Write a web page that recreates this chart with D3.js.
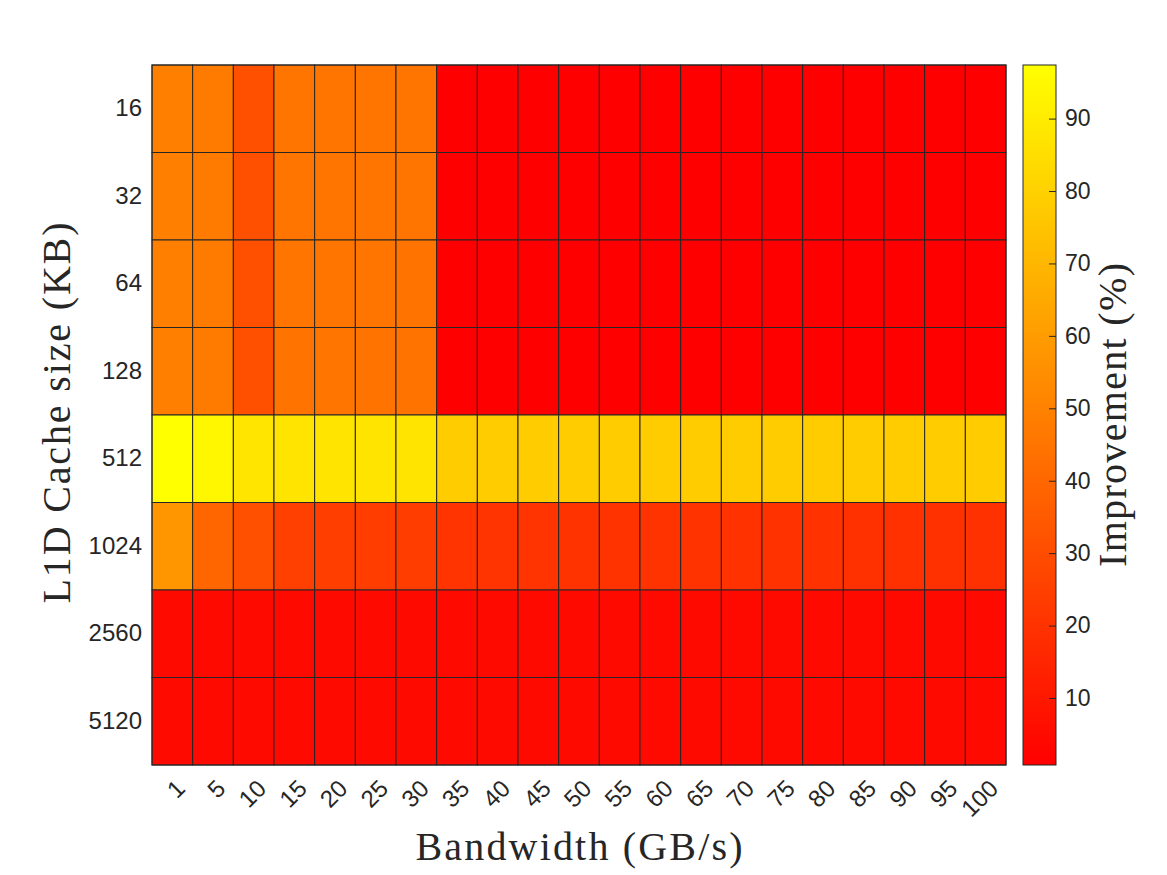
<!DOCTYPE html>
<html>
<head>
<meta charset="utf-8">
<script src="https://cdn.jsdelivr.net/npm/d3@7"></script>
<style>
  body { margin: 0; background: #fff; }
  svg { display: block; }
  .tick text { font-family: "Liberation Sans", Arial, sans-serif; fill: #262626; }
  .label { font-family: "Liberation Serif", "Times New Roman", serif; fill: #262626; }
</style>
</head>
<body>
<svg id="chart"></svg>
<script>
// bandwidth (GB/s), one column each
const bandwidths = [1, 5, 10, 15, 20, 25, 30, 35, 40, 45, 50, 55, 60, 65, 70, 75, 80, 85, 90, 95, 100];
// L1D cache sizes (KB), one row each
const cacheSizes = ["16", "32", "64", "128", "512", "1024", "2560", "5120"];

// improvement (%) per row
const row16   = [49.3, 47.4, 31.1, 45.1, 45.2, 45.0, 45.1, 0.9, 0.8, 0.75, 0.9, 0.9, 0.8, 0.9, 0.9, 0.8, 0.9, 0.9, 0.8, 0.9, 0.9];
const row32   = [49.2, 47.3, 31.2, 45.0, 45.1, 45.0, 45.0, 0.9, 0.9, 0.8, 0.9, 0.9, 0.9, 0.8, 0.9, 0.9, 0.8, 0.9, 0.9, 0.9, 0.9];
const row64   = [49.2, 47.2, 31.0, 45.0, 45.0, 45.0, 44.9, 0.9, 0.9, 0.8, 0.9, 0.8, 0.9, 0.9, 0.9, 0.9, 0.9, 0.8, 0.9, 0.9, 0.9];
const row128  = [49.1, 47.2, 30.9, 44.9, 45.0, 44.9, 44.9, 0.9, 0.9, 0.8, 0.9, 0.9, 0.9, 0.9, 0.8, 0.9, 0.9, 0.9, 0.9, 0.8, 0.9];
const row512  = [97.4, 94.4, 87.5, 87.2, 87.2, 87.3, 87.2, 78.2, 78.1, 78.0, 78.1, 78.1, 78.0, 78.1, 78.1, 78.0, 78.1, 78.1, 78.0, 78.1, 78.1];
const row1024 = [57.6, 39.4, 31.1, 25.0, 24.2, 24.0, 24.0, 20.6, 20.4, 20.3, 20.2, 20.1, 20.0, 19.9, 19.8, 19.7, 19.6, 19.5, 19.4, 19.4, 19.3];
const row2560 = [4.6, 4.6, 4.5, 4.5, 4.5, 4.5, 4.5, 4.5, 4.5, 4.5, 4.5, 4.5, 4.5, 4.5, 4.5, 4.5, 4.5, 4.5, 4.5, 4.5, 4.5];
const row5120 = [4.6, 4.6, 4.5, 4.5, 4.5, 4.5, 4.5, 4.5, 4.5, 4.5, 4.5, 4.5, 4.5, 4.5, 4.5, 4.5, 4.5, 4.5, 4.5, 4.5, 4.5];
const rows = [row16, row32, row64, row128, row512, row1024, row2560, row5120];

const colorbarTicks = [10, 20, 30, 40, 50, 60, 70, 80, 90];

const width = 1167, height = 875;
const margin = {left: 152, top: 65, right: 161, bottom: 110};
const plotW = width - margin.left - margin.right;   // 854
const plotH = height - margin.top - margin.bottom;  // 700

const svg = d3.select("#chart")
  .attr("width", width)
  .attr("height", height);

// flatten into cells
const cells = [];
rows.forEach((r, i) => {
  r.forEach((v, j) => {
    cells.push({row: cacheSizes[i], col: bandwidths[j], value: v});
  });
});

const x = d3.scaleBand()
  .domain(bandwidths)
  .range([margin.left, margin.left + plotW]);

const y = d3.scaleBand()
  .domain(cacheSizes)
  .range([margin.top, margin.top + plotH]);

// matlab "autumn": red -> yellow
const extent = d3.extent(cells, d => d.value);
const color = d3.scaleLinear()
  .domain(extent)
  .range(["#ff0000", "#ffff00"]);

svg.append("g")
  .selectAll("rect")
  .data(cells)
  .join("rect")
  .attr("x", d => x(d.col))
  .attr("y", d => y(d.row))
  .attr("width", x.bandwidth())
  .attr("height", y.bandwidth())
  .attr("fill", d => color(d.value))
  .attr("stroke", "#262626")
  .attr("stroke-width", 1);

// y axis (no tick marks, like a matlab heatmap)
const yAxis = svg.append("g")
  .attr("transform", `translate(${margin.left},0)`)
  .call(d3.axisLeft(y).tickSize(0).tickPadding(10));
yAxis.select(".domain").remove();
yAxis.selectAll(".tick text")
  .style("font-size", "24px");

// x axis, labels rotated 45 degrees
const xAxis = svg.append("g")
  .attr("transform", `translate(0,${margin.top + plotH})`)
  .call(d3.axisBottom(x).tickSize(0));
xAxis.select(".domain").remove();
xAxis.selectAll(".tick text")
  .style("font-size", "24px")
  .attr("text-anchor", "end")
  .attr("dy", null)
  .attr("y", 0)
  .attr("transform", "translate(14,25) rotate(-45)");

// outer frame
svg.append("rect")
  .attr("x", margin.left)
  .attr("y", margin.top)
  .attr("width", plotW)
  .attr("height", plotH)
  .attr("fill", "none")
  .attr("stroke", "#262626")
  .attr("stroke-width", 1);

// colorbar
const cbX = 1023, cbW = 33;
const cScale = d3.scaleLinear()
  .domain(extent)
  .range([margin.top + plotH, margin.top]);

const defs = svg.append("defs");
const grad = defs.append("linearGradient")
  .attr("id", "cbgrad")
  .attr("x1", 0).attr("x2", 0)
  .attr("y1", 1).attr("y2", 0);
grad.append("stop").attr("offset", "0%").attr("stop-color", color(extent[0]));
grad.append("stop").attr("offset", "100%").attr("stop-color", color(extent[1]));

svg.append("rect")
  .attr("x", cbX)
  .attr("y", margin.top)
  .attr("width", cbW)
  .attr("height", plotH)
  .attr("fill", "url(#cbgrad)")
  .attr("stroke", "#262626")
  .attr("stroke-width", 1);

const cbAxis = svg.append("g")
  .attr("transform", `translate(${cbX + cbW},0)`)
  .call(d3.axisRight(cScale).tickValues(colorbarTicks).tickSize(-7).tickPadding(9));
cbAxis.select(".domain").remove();
cbAxis.selectAll(".tick line").attr("stroke", "#262626");
cbAxis.selectAll(".tick text")
  .style("font-size", "23px");

// axis labels
svg.append("text")
  .attr("class", "label")
  .attr("x", margin.left + plotW / 2)
  .attr("y", 860)
  .attr("text-anchor", "middle")
  .style("font-size", "40px")
  .attr("textLength", 327)
  .text("Bandwidth (GB/s)");

svg.append("text")
  .attr("class", "label")
  .attr("transform", `translate(70,${margin.top + plotH / 2 - 2}) rotate(-90)`)
  .attr("text-anchor", "middle")
  .style("font-size", "40px")
  .attr("textLength", 381)
  .text("L1D Cache size (KB)");

svg.append("text")
  .attr("class", "label")
  .attr("transform", `translate(1126,${margin.top + plotH / 2}) rotate(-90)`)
  .attr("text-anchor", "middle")
  .style("font-size", "40px")
  .attr("textLength", 304)
  .text("Improvement (%)");
</script>
</body>
</html>
